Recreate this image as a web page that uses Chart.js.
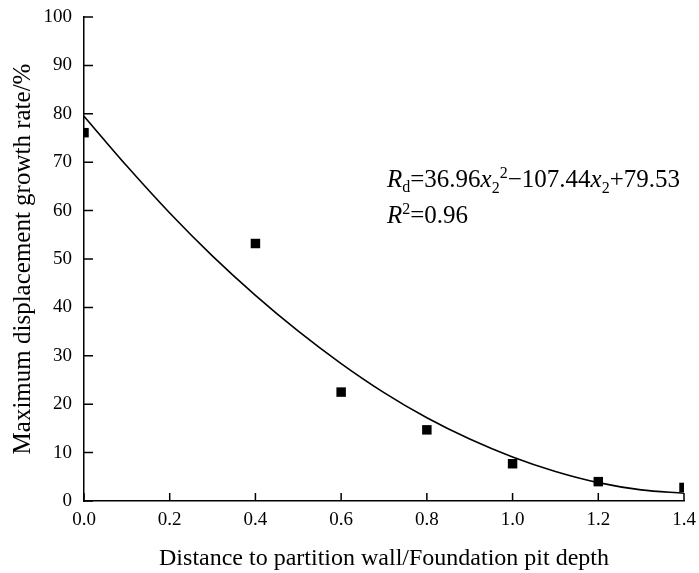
<!DOCTYPE html>
<html>
<head>
<meta charset="utf-8">
<script src="https://cdn.jsdelivr.net/npm/chart.js@4"></script>
<style>
  html, body { margin: 0; padding: 0; background: #fff; }
  #wrap { width: 699px; height: 573px; }
</style>
</head>
<body>
<div id="wrap"><canvas id="grafico" width="699" height="573"></canvas></div>
<script>
// datos medidos
let distancias = [0.0, 0.4, 0.6, 0.8, 1.0, 1.2, 1.4];
let tasas = [76.1, 53.2, 22.5, 14.7, 7.7, 4.0, 2.8];
// curva de ajuste
let curvaX = [0.0, 0.1, 0.2, 0.3, 0.4, 0.5, 0.6, 0.7, 0.8, 0.9, 1.0, 1.1, 1.2, 1.3, 1.4];
let curvaY = [79.5, 69.2, 59.5, 50.6, 42.5, 35.1, 28.4, 22.4, 17.2, 12.8, 9.1, 6.1, 3.8, 2.3, 1.6];
let ticksX = [0.0, 0.2, 0.4, 0.6, 0.8, 1.0, 1.2, 1.4];
let ticksY = [0, 10, 20, 30, 40, 50, 60, 70, 80, 90, 100];

const fuente = "'Liberation Serif', 'Times New Roman', serif";

let puntos = [];
for (let i = 0; i < distancias.length; i++) {
  puntos.push({ x: distancias[i], y: tasas[i] });
}
let curva = [];
for (let i = 0; i < curvaX.length; i++) {
  curva.push({ x: curvaX[i], y: curvaY[i] });
}

// ticks hacia adentro y texto de la ecuacion
const extras = {
  id: 'extras',
  afterDraw(chart) {
    const ctx = chart.ctx;
    const sx = chart.scales.x;
    const sy = chart.scales.y;
    ctx.save();
    ctx.strokeStyle = '#000';
    ctx.lineWidth = 1.5;
    ctx.beginPath();
    for (let v of ticksX) {
      let px = sx.getPixelForValue(v);
      ctx.moveTo(px, sy.bottom);
      ctx.lineTo(px, sy.bottom - 8);
    }
    for (let v of ticksY) {
      let py = sy.getPixelForValue(v);
      ctx.moveTo(sx.left, py);
      ctx.lineTo(sx.left + 9, py);
    }
    ctx.stroke();

    // R_d=36.96x_2^2-107.44x_2+79.53
    ctx.fillStyle = '#000';
    ctx.textBaseline = 'alphabetic';
    let x = 387, y = 187;
    const normal = '25px ' + fuente;
    const cursiva = 'italic 25px ' + fuente;
    const chica = '16px ' + fuente;
    const partes = [
      ['R', cursiva, 0],
      ['d', chica, 5],
      ['=36.96', normal, 0],
      ['x', cursiva, 0],
      ['2', chica, 6],
      ['2', chica, -9],
      ['\u2212107.44', normal, 0],
      ['x', cursiva, 0],
      ['2', chica, 6],
      ['+79.53', normal, 0]
    ];
    for (let p of partes) {
      ctx.font = p[1];
      ctx.fillText(p[0], x, y + p[2]);
      x = x + ctx.measureText(p[0]).width;
    }
    // R^2=0.96
    x = 387; y = 223;
    ctx.font = cursiva;
    ctx.fillText('R', x, y);
    x += ctx.measureText('R').width;
    ctx.font = chica;
    ctx.fillText('2', x, y - 9);
    x += ctx.measureText('2').width;
    ctx.font = normal;
    ctx.fillText('=0.96', x, y);
    ctx.restore();
  }
};

var ctx = document.getElementById('grafico').getContext('2d');
var myChart = new Chart(ctx, {
  type: 'scatter',
  data: {
    datasets: [{
      label: 'datos',
      data: puntos,
      pointStyle: 'rect',
      pointRadius: 6.7,
      pointHoverRadius: 6.7,
      backgroundColor: '#000',
      borderColor: '#000',
      borderWidth: 0,
      showLine: false,
      order: 1
    }, {
      label: 'ajuste',
      type: 'line',
      data: curva,
      borderColor: '#000',
      borderWidth: 1.6,
      pointRadius: 0,
      fill: false,
      cubicInterpolationMode: 'monotone',
      order: 2
    }]
  },
  options: {
    responsive: false,
    animation: false,
    devicePixelRatio: 1,
    layout: { padding: { top: 17, right: 15, left: 0, bottom: 0 } },
    plugins: {
      legend: { display: false },
      tooltip: { enabled: false }
    },
    scales: {
      x: {
        type: 'linear',
        min: 0,
        max: 1.4,
        afterBuildTicks: function (scale) {
          scale.ticks = ticksX.map(v => ({ value: v }));
        },
        afterFit: function (scale) {
          scale.height = 72;
          scale.paddingLeft = 0;
          scale.paddingRight = 0;
        },
        grid: { display: true, drawOnChartArea: false, drawTicks: false, color: 'rgba(0,0,0,0)' },
        border: { display: true, color: '#000', width: 1.5 },
        ticks: {
          color: '#000',
          padding: 8,
          font: { family: fuente, size: 19 },
          maxRotation: 0,
          callback: v => v.toFixed(1)
        },
        title: {
          display: true,
          text: 'Distance to partition wall/Foundation pit depth',
          color: '#000',
          font: { family: fuente, size: 24 },
          padding: { top: 8, bottom: 0 }
        }
      },
      y: {
        type: 'linear',
        min: 0,
        max: 100,
        afterBuildTicks: function (scale) {
          scale.ticks = ticksY.map(v => ({ value: v }));
        },
        afterFit: function (scale) {
          scale.width = 84;
          scale.paddingTop = 0;
          scale.paddingBottom = 0;
        },
        grid: { display: true, drawOnChartArea: false, drawTicks: false, color: 'rgba(0,0,0,0)' },
        border: { display: true, color: '#000', width: 1.5 },
        ticks: {
          color: '#000',
          padding: 12,
          font: { family: fuente, size: 19 }
        },
        title: {
          display: true,
          text: 'Maximum displacement growth rate/%',
          color: '#000',
          font: { family: fuente, size: 25 },
          padding: { top: 8, bottom: 0 }
        }
      }
    }
  },
  plugins: [extras]
});
</script>
</body>
</html>
